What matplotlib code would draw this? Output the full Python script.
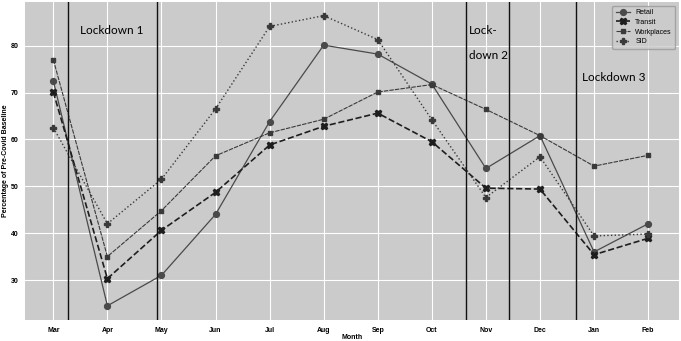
import matplotlib
matplotlib.use("Agg")
import matplotlib.pyplot as plt

months = ["Mar", "Apr", "May", "Jun", "Jul", "Aug", "Sep", "Oct", "Nov", "Dec", "Jan", "Feb"]
retail = [72.5, 24.5, 31.0, 44.0, 63.8, 80.1, 78.2, 71.8, 53.8, 60.8, 36.0, 42.0]
transit = [70.1, 30.3, 40.6, 48.7, 58.8, 62.8, 65.6, 59.5, 49.6, 49.4, 35.4, 38.9]
workplaces = [77.0, 35.0, 44.8, 56.5, 61.4, 64.3, 70.1, 71.7, 66.4, 60.8, 54.3, 56.6]
sid = [62.5, 42.0, 51.5, 66.5, 84.1, 86.4, 81.3, 64.2, 47.6, 56.3, 39.4, 39.8]

# lockdown boundaries, in month-index units
lockdown_lines = [0.28, 1.92, 7.64, 8.43, 9.67]

fig = plt.figure(figsize=(6.81, 3.41), dpi=100)
ax = fig.add_axes([0.037, 0.062, 0.96, 0.932])
ax.set_facecolor("#cbcbcb")
ax.grid(True, color="white", lw=0.8)
ax.set_axisbelow(True)
for s in ax.spines.values():
    s.set_visible(False)

x = list(range(len(months)))
ax.plot(x, retail, linestyle="-", marker="o", ms=4.2, color="#4a4a4a", lw=0.9, label="Retail")
ax.plot(x, transit, linestyle="--", marker="X", ms=4.8, color="#1e1e1e", lw=1.2, label="Transit")
ax.plot(x, workplaces, linestyle=(0, (4, 1)), marker="s", ms=3.5, color="#3a3a3a", lw=0.8, label="Workplaces")
ax.plot(x, sid, linestyle=":", marker="P", ms=4.2, color="#3a3a3a", lw=1.0, label="SID")

for v in lockdown_lines:
    ax.axvline(v, color="#111111", lw=1.0)

tfont = dict(family="Lato", fontsize=8.5, color="black", va="center")
ax.text(0.49, 83.3, "Lockdown 1", **tfont)
ax.text(7.69, 83.3, "Lock-", **tfont)
ax.text(7.69, 78.0, "down 2", **tfont)
ax.text(9.77, 73.2, "Lockdown 3", **tfont)

ax.set_xlim(-0.52, 11.57)
ax.set_ylim(21.5, 89.3)
ax.set_xticks(x)
ax.set_xticklabels(months)
ax.set_yticks([30, 40, 50, 60, 70, 80])
ax.tick_params(length=0, labelsize=5, pad=5)
for lab in ax.get_xticklabels() + ax.get_yticklabels():
    lab.set_fontweight("bold")
    lab.set_family("Liberation Sans")
ax.set_xlabel("Month", fontsize=5, fontweight="bold", family="Liberation Sans", labelpad=0)
ax.set_ylabel("Percentage of Pre-Covid Baseline", fontsize=5, fontweight="bold",
              family="Liberation Sans", labelpad=1)

leg = ax.legend(loc="upper right", frameon=True, handlelength=2.0,
                borderpad=0.5, labelspacing=0.4, prop={"family": "Liberation Sans", "size": 5})
leg.get_frame().set_facecolor("#cbcbcb")
leg.get_frame().set_edgecolor("#999999")

fig.savefig("out.png", dpi=100)
